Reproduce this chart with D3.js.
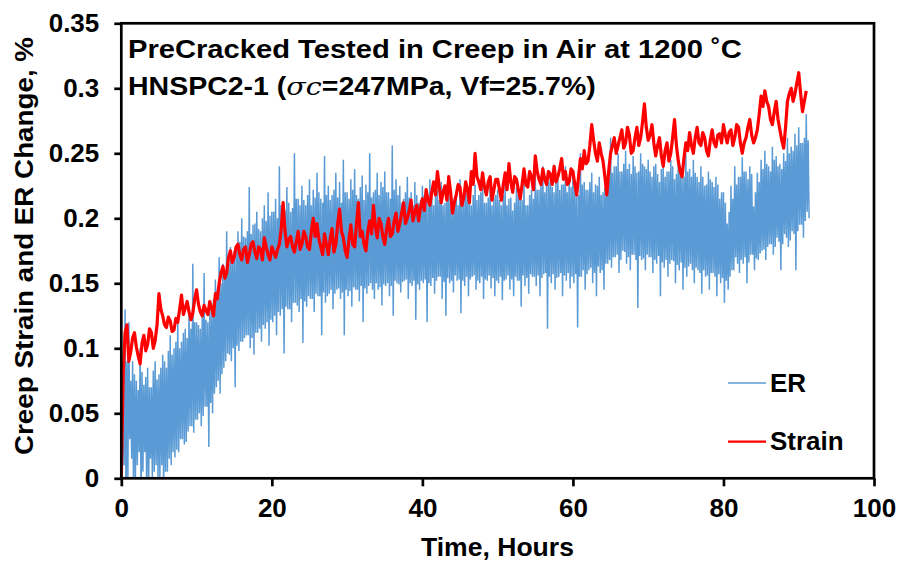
<!DOCTYPE html>
<html>
<head>
<meta charset="utf-8">
<script src="https://cdn.jsdelivr.net/npm/d3@7"></script>
<style>
  html, body { margin: 0; padding: 0; background: #fff; }
  text { font-family: "Liberation Sans", Arial, sans-serif; font-weight: bold; fill: #000; }
</style>
</head>
<body>
<svg id="chart" width="898" height="561"></svg>
<script>
// Sampling step of the logged data, hours
const step = 0.5;

// Creep strain, %, one reading every half hour from 0 h
const strain = [
  0, 0.112, 0.09, 0.108, 0.101, 0.088, 0.110, 0.103, 0.112, 0.106,
  0.142, 0.125, 0.116, 0.121, 0.114, 0.120, 0.141, 0.131, 0.128, 0.127,
  0.145, 0.128, 0.133, 0.126, 0.131, 0.142, 0.150, 0.163, 0.158, 0.175,
  0.170, 0.180, 0.168, 0.178, 0.172, 0.182, 0.169, 0.176, 0.185, 0.172,
  0.178, 0.170, 0.180, 0.212, 0.178, 0.186, 0.174, 0.190, 0.180, 0.186,
  0.176, 0.200, 0.196, 0.178, 0.188, 0.172, 0.192, 0.180, 0.207, 0.185,
  0.170, 0.195, 0.178, 0.212, 0.190, 0.175, 0.198, 0.210, 0.185, 0.196,
  0.180, 0.200, 0.188, 0.204, 0.196, 0.212, 0.200, 0.214, 0.205, 0.198,
  0.215, 0.222, 0.210, 0.228, 0.236, 0.212, 0.225, 0.232, 0.204, 0.218,
  0.224, 0.216, 0.222, 0.236, 0.250, 0.228, 0.235, 0.218, 0.232, 0.222,
  0.230, 0.214, 0.235, 0.242, 0.220, 0.230, 0.215, 0.238, 0.224, 0.232,
  0.248, 0.230, 0.238, 0.226, 0.234, 0.240, 0.232, 0.246, 0.236, 0.228,
  0.236, 0.218, 0.246, 0.252, 0.244, 0.272, 0.250, 0.258, 0.244, 0.218,
  0.250, 0.262, 0.256, 0.268, 0.258, 0.264, 0.252, 0.270, 0.262, 0.288,
  0.260, 0.272, 0.248, 0.262, 0.240, 0.258, 0.250, 0.276, 0.244, 0.232,
  0.258, 0.266, 0.250, 0.270, 0.256, 0.262, 0.248, 0.268, 0.255, 0.265,
  0.272, 0.258, 0.268, 0.262, 0.270, 0.250, 0.262, 0.276, 0.258, 0.268,
  0.294, 0.298, 0.286, 0.272, 0.290, 0.268, 0.254, 0.290, 0.300, 0.296,
  0.312, 0.282, 0.298
];

// Creep strain, %, readings taken a quarter hour after each of the above
const strainQ = [
  0.08, 0.118, 0.097, 0.112, 0.094, 0.104, 0.098, 0.115, 0.100, 0.118,
  0.130, 0.118, 0.124, 0.113, 0.123, 0.130, 0.126, 0.136, 0.122, 0.138,
  0.134, 0.125, 0.129, 0.136, 0.125, 0.138, 0.158, 0.154, 0.170, 0.166,
  0.178, 0.172, 0.176, 0.166, 0.180, 0.174, 0.178, 0.168, 0.178, 0.168,
  0.174, 0.176, 0.192, 0.190, 0.184, 0.178, 0.182, 0.176, 0.190, 0.178,
  0.190, 0.186, 0.184, 0.172, 0.180, 0.184, 0.174, 0.196, 0.190, 0.175,
  0.184, 0.180, 0.196, 0.186, 0.180, 0.190, 0.188, 0.194, 0.200, 0.186,
  0.192, 0.186, 0.198, 0.190, 0.204, 0.196, 0.206, 0.198, 0.210, 0.208,
  0.206, 0.214, 0.220, 0.218, 0.224, 0.220, 0.214, 0.220, 0.212, 0.226,
  0.210, 0.228, 0.212, 0.226, 0.232, 0.222, 0.224, 0.228, 0.214, 0.230,
  0.222, 0.226, 0.222, 0.228, 0.232, 0.222, 0.226, 0.226, 0.236, 0.222,
  0.236, 0.226, 0.230, 0.236, 0.226, 0.228, 0.238, 0.230, 0.226, 0.238,
  0.226, 0.232, 0.238, 0.242, 0.256, 0.260, 0.244, 0.250, 0.232, 0.236,
  0.256, 0.250, 0.262, 0.254, 0.270, 0.250, 0.262, 0.256, 0.274, 0.270,
  0.264, 0.258, 0.256, 0.248, 0.252, 0.244, 0.262, 0.256, 0.236, 0.246,
  0.252, 0.256, 0.262, 0.258, 0.266, 0.252, 0.260, 0.258, 0.264, 0.258,
  0.264, 0.266, 0.256, 0.272, 0.258, 0.258, 0.270, 0.264, 0.262, 0.280,
  0.286, 0.290, 0.276, 0.282, 0.276, 0.260, 0.270, 0.296, 0.290, 0.304,
  0.296, 0.290
];

// Electrical resistance change, %: four readings per half hour
// (upper swing, lower swing, upper, lower)
const erHigh = [
  0.05, 0.13, 0.12, 0.09, 0.075, 0.10, 0.072, 0.085, 0.07, 0.09,
  0.08, 0.095, 0.085, 0.11, 0.10, 0.12, 0.105, 0.115, 0.13, 0.165,
  0.12, 0.115, 0.158, 0.12, 0.13, 0.153, 0.17, 0.165, 0.19, 0.178,
  0.175, 0.19, 0.20, 0.185, 0.224, 0.195, 0.205, 0.19, 0.21, 0.22,
  0.205, 0.215, 0.24, 0.21, 0.224, 0.205, 0.25, 0.215, 0.225, 0.21,
  0.23, 0.222, 0.235, 0.215, 0.248, 0.225, 0.218, 0.235, 0.228, 0.245,
  0.22, 0.23, 0.238, 0.215, 0.233, 0.226, 0.25, 0.22, 0.235, 0.228,
  0.236, 0.22, 0.256, 0.23, 0.225, 0.215, 0.232, 0.22, 0.228, 0.212,
  0.225, 0.215, 0.23, 0.21, 0.222, 0.228, 0.212, 0.226, 0.208, 0.22,
  0.23, 0.215, 0.225, 0.21, 0.226, 0.218, 0.23, 0.212, 0.224, 0.216,
  0.222, 0.21, 0.226, 0.215, 0.206, 0.224, 0.218, 0.228, 0.21, 0.222,
  0.235, 0.222, 0.24, 0.228, 0.236, 0.22, 0.232, 0.226, 0.24, 0.23,
  0.236, 0.22, 0.25, 0.228, 0.222, 0.235, 0.226, 0.232, 0.22, 0.228,
  0.262, 0.24, 0.25, 0.236, 0.252, 0.242, 0.248, 0.235, 0.25, 0.24,
  0.245, 0.232, 0.242, 0.228, 0.24, 0.236, 0.245, 0.23, 0.248, 0.236,
  0.25, 0.238, 0.245, 0.232, 0.24, 0.225, 0.236, 0.228, 0.232, 0.215,
  0.22, 0.196, 0.225, 0.24, 0.232, 0.247, 0.236, 0.24, 0.209, 0.235,
  0.245, 0.252, 0.24, 0.255, 0.248, 0.242, 0.25, 0.262, 0.255, 0.265,
  0.27, 0.258, 0.28
];

const erLow = [
  0, -0.02, 0.03, -0.01, 0.01, -0.02, 0.02, -0.01, 0, 0.01,
  0.0, -0.01, 0.005, 0.01, 0.016, 0.02, 0.03, 0.028, 0.04, 0.035,
  0.045, 0.04, 0.055, 0.024, 0.05, 0.07, 0.065, 0.085, 0.096, 0.09,
  0.07, 0.098, 0.105, 0.11, 0.10, 0.095, 0.112, 0.105, 0.115, 0.102,
  0.12, 0.11, 0.125, 0.096, 0.13, 0.12, 0.135, 0.128, 0.104, 0.132,
  0.138, 0.128, 0.14, 0.11, 0.135, 0.142, 0.13, 0.145, 0.138, 0.11,
  0.14, 0.132, 0.145, 0.136, 0.12, 0.142, 0.15, 0.138, 0.145, 0.133,
  0.148, 0.14, 0.125, 0.15, 0.143, 0.152, 0.138, 0.148, 0.122, 0.145,
  0.15, 0.12, 0.148, 0.142, 0.155, 0.138, 0.125, 0.15, 0.143, 0.152,
  0.127, 0.148, 0.14, 0.155, 0.145, 0.15, 0.138, 0.152, 0.146, 0.14,
  0.15, 0.137, 0.153, 0.145, 0.14, 0.152, 0.132, 0.148, 0.142, 0.155,
  0.148, 0.14, 0.157, 0.115, 0.15, 0.145, 0.155, 0.14, 0.152, 0.146,
  0.15, 0.116, 0.155, 0.145, 0.16, 0.15, 0.14, 0.158, 0.145, 0.165,
  0.162, 0.17, 0.158, 0.175, 0.165, 0.16, 0.172, 0.131, 0.168, 0.16,
  0.17, 0.158, 0.165, 0.14, 0.162, 0.155, 0.168, 0.15, 0.16, 0.145,
  0.155, 0.165, 0.15, 0.16, 0.142, 0.155, 0.145, 0.158, 0.14, 0.15,
  0.135, 0.145, 0.16, 0.17, 0.158, 0.165, 0.15, 0.172, 0.16, 0.168,
  0.175, 0.168, 0.18, 0.172, 0.185, 0.16, 0.188, 0.178, 0.19, 0.16,
  0.195, 0.185, 0.205
];

const erHigh2 = [
  0.07, 0.09, 0.075, 0.08, 0.068, 0.082, 0.078, 0.07, 0.083, 0.076,
  0.085, 0.09, 0.098, 0.095, 0.105, 0.1, 0.112, 0.108, 0.115, 0.12,
  0.118, 0.125, 0.122, 0.13, 0.138, 0.145, 0.15, 0.158, 0.165, 0.17,
  0.178, 0.182, 0.186, 0.19, 0.188, 0.196, 0.192, 0.2, 0.198, 0.202,
  0.205, 0.2, 0.21, 0.206, 0.212, 0.208, 0.215, 0.21, 0.214, 0.218,
  0.21, 0.216, 0.22, 0.212, 0.218, 0.214, 0.222, 0.216, 0.212, 0.22,
  0.215, 0.222, 0.218, 0.224, 0.214, 0.22, 0.216, 0.222, 0.218, 0.224,
  0.22, 0.215, 0.222, 0.218, 0.212, 0.22, 0.216, 0.21, 0.218, 0.214,
  0.218, 0.212, 0.216, 0.22, 0.214, 0.21, 0.218, 0.212, 0.216, 0.21,
  0.215, 0.22, 0.212, 0.218, 0.214, 0.22, 0.212, 0.216, 0.21, 0.218,
  0.214, 0.218, 0.21, 0.216, 0.212, 0.218, 0.214, 0.21, 0.218, 0.215,
  0.222, 0.226, 0.22, 0.228, 0.224, 0.23, 0.222, 0.226, 0.22, 0.224,
  0.222, 0.218, 0.226, 0.222, 0.228, 0.22, 0.225, 0.218, 0.224, 0.23,
  0.235, 0.24, 0.236, 0.242, 0.238, 0.234, 0.24, 0.236, 0.242, 0.238,
  0.236, 0.24, 0.234, 0.238, 0.232, 0.236, 0.24, 0.234, 0.238, 0.232,
  0.236, 0.232, 0.235, 0.228, 0.232, 0.226, 0.23, 0.224, 0.226, 0.22,
  0.212, 0.205, 0.215, 0.226, 0.232, 0.236, 0.23, 0.234, 0.22, 0.228,
  0.238, 0.242, 0.236, 0.245, 0.24, 0.238, 0.244, 0.25, 0.252, 0.256,
  0.258, 0.262, 0.26
];

const erLow2 = [
  0.01, 0, 0.015, 0, 0.02, 0.005, -0.01, 0.015, 0.005, 0,
  0.01, 0.005, 0.015, 0.02, 0.022, 0.03, 0.026, 0.036, 0.04, 0.045,
  0.05, 0.048, 0.055, 0.058, 0.065, 0.075, 0.08, 0.09, 0.095, 0.1,
  0.102, 0.105, 0.108, 0.11, 0.108, 0.112, 0.115, 0.118, 0.12, 0.122,
  0.125, 0.128, 0.13, 0.132, 0.13, 0.135, 0.133, 0.138, 0.136, 0.14,
  0.138, 0.142, 0.14, 0.143, 0.14, 0.145, 0.142, 0.146, 0.143, 0.145,
  0.144, 0.147, 0.145, 0.148, 0.146, 0.148, 0.145, 0.15, 0.147, 0.149,
  0.15, 0.148, 0.152, 0.149, 0.151, 0.153, 0.15, 0.152, 0.149, 0.152,
  0.153, 0.15, 0.154, 0.152, 0.155, 0.151, 0.154, 0.152, 0.156, 0.153,
  0.152, 0.155, 0.153, 0.156, 0.152, 0.155, 0.153, 0.156, 0.154, 0.152,
  0.155, 0.152, 0.156, 0.153, 0.155, 0.152, 0.156, 0.154, 0.157, 0.155,
  0.156, 0.154, 0.158, 0.155, 0.157, 0.154, 0.158, 0.156, 0.158, 0.155,
  0.157, 0.155, 0.16, 0.157, 0.162, 0.158, 0.163, 0.16, 0.165, 0.168,
  0.17, 0.172, 0.168, 0.174, 0.17, 0.172, 0.168, 0.171, 0.169, 0.172,
  0.17, 0.168, 0.171, 0.166, 0.168, 0.165, 0.167, 0.164, 0.166, 0.162,
  0.163, 0.16, 0.162, 0.158, 0.16, 0.156, 0.158, 0.155, 0.157, 0.154,
  0.152, 0.155, 0.16, 0.165, 0.168, 0.17, 0.166, 0.172, 0.169, 0.173,
  0.176, 0.178, 0.18, 0.178, 0.182, 0.18, 0.185, 0.183, 0.188, 0.19,
  0.195, 0.198, 0.2
];

const xTicks = [0, 20, 40, 60, 80, 100];
const yTicks = [0, 0.05, 0.1, 0.15, 0.2, 0.25, 0.3, 0.35];
const yTickLabels = ["0", "0.05", "0.1", "0.15", "0.2", "0.25", "0.3", "0.35"];

const svg = d3.select("#chart");
const plot = { left: 121.3, right: 874, top: 23.3, bottom: 478.3 };

const x = d3.scaleLinear().domain([0, 100]).range([plot.left, plot.right]);
const y = d3.scaleLinear().domain([0, 0.35]).range([plot.bottom, plot.top]);

// Time stamp every reading
const strainPts = [];
strain.forEach((v, i) => {
  strainPts.push([i * step, v]);
  if (i < strainQ.length) strainPts.push([i * step + step / 2, strainQ[i]]);
});
const erPts = [];
erHigh.forEach((v, i) => {
  const t = i * step;
  erPts.push([t, v]);
  erPts.push([t + step / 4, erLow[i]]);
  erPts.push([t + step / 2, erHigh2[i]]);
  erPts.push([t + 3 * step / 4, erLow2[i]]);
});

svg.append("clipPath").attr("id", "plotClip")
  .append("rect")
  .attr("x", plot.left).attr("y", plot.top)
  .attr("width", plot.right - plot.left).attr("height", plot.bottom - plot.top);

const line = d3.line().x(d => x(d[0])).y(d => y(d[1]));

const data = svg.append("g").attr("clip-path", "url(#plotClip)");
data.append("path").datum(erPts)
  .attr("d", line)
  .attr("fill", "none")
  .attr("stroke", "#5B9BD5")
  .attr("stroke-width", 1.5)
  .attr("stroke-linejoin", "miter");
data.append("path").datum(strainPts)
  .attr("d", line)
  .attr("fill", "none")
  .attr("stroke", "#FF0000")
  .attr("stroke-width", 3.2)
  .attr("stroke-linejoin", "round");

// Axes with outward ticks
const xAxis = svg.append("g")
  .attr("transform", `translate(0,${plot.bottom})`)
  .call(d3.axisBottom(x).tickValues(xTicks).tickSize(8).tickPadding(12).tickFormat(d3.format("d")));
const yAxis = svg.append("g")
  .attr("transform", `translate(${plot.left},0)`)
  .call(d3.axisLeft(y).tickValues(yTicks).tickSize(7).tickPadding(15)
    .tickFormat((d, i) => yTickLabels[i]));

[xAxis, yAxis].forEach(g => {
  g.select(".domain").remove();
  g.selectAll(".tick line").attr("stroke", "#000").attr("stroke-width", 2.7);
  g.selectAll(".tick text")
    .attr("fill", "#000")
    .style("font-size", "26px")
    .style("font-weight", "bold")
    .style("font-family", "'Liberation Sans', Arial, sans-serif");
});

// Plot frame
svg.append("rect")
  .attr("x", plot.left).attr("y", plot.top)
  .attr("width", plot.right - plot.left).attr("height", plot.bottom - plot.top)
  .attr("fill", "none").attr("stroke", "#000").attr("stroke-width", 2.7);

// Stretch a text element horizontally so it spans a given width from its left edge
function fitWidth(sel, x0, width) {
  const w = sel.node().getBBox().width;
  sel.attr("transform", `translate(${x0},0) scale(${width / w},1) translate(${-x0},0)`);
}

// Axis titles
const xTitle = svg.append("text")
  .attr("x", 421).attr("y", 556)
  .style("font-size", "25px")
  .text("Time, Hours");
fitWidth(xTitle, 421, 153);

svg.append("text")
  .attr("transform", "translate(33,246) rotate(-90)")
  .attr("text-anchor", "middle")
  .attr("textLength", 418)
  .attr("lengthAdjust", "spacingAndGlyphs")
  .style("font-size", "25.5px")
  .text("Creep Strain and ER Change, %");

// Test description
const t1 = svg.append("text")
  .attr("x", 128).attr("y", 58)
  .style("font-size", "25px")
  .text("PreCracked Tested in Creep in Air at 1200 \u02DAC");
fitWidth(t1, 128, 614);

const t2 = svg.append("text")
  .attr("x", 128).attr("y", 95)
  .style("font-size", "25px");
t2.append("tspan").text("HNSPC2-1 (");
t2.append("tspan")
  .style("font-style", "italic")
  .style("font-weight", "normal")
  .style("font-family", "'DejaVu Serif', serif")
  .text("\u03C3c");
t2.append("tspan").text("=247MPa, Vf=25.7%)");
fitWidth(t2, 128, 468);

// Legend
const legend = [
  { name: "ER", color: "#5B9BD5", width: 1.5, y: 383 },
  { name: "Strain", color: "#FF0000", width: 2.2, y: 441.7 }
];
const lg = svg.append("g");
legend.forEach(d => {
  lg.append("line")
    .attr("x1", 728).attr("x2", 766)
    .attr("y1", d.y).attr("y2", d.y)
    .attr("stroke", d.color).attr("stroke-width", d.width);
  lg.append("text")
    .attr("x", 770).attr("y", d.y + 8.5)
    .style("font-size", "26px")
    .text(d.name);
});
</script>
</body>
</html>
